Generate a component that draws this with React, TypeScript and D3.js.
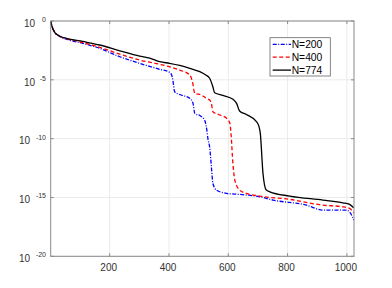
import React from "react";
import * as d3 from "d3";

const xTicks = [200, 400, 600, 800, 1000];
const yTickExps = [0, -5, -10, -15, -20];
const seriesNames = ["N=200", "N=400", "N=774"];

const n200 = [1, 4, 8, 15, 25, 38, 54, 109, 166, 234, 301, 369, 402, 409, 413, 419, 436, 470, 481, 487, 504, 520, 526, 532, 537, 543, 548, 560, 594, 638, 706, 751, 863, 919, 998, 1009, 1023];
const e200 = [0, -0.34, -0.64, -0.98, -1.22, -1.40, -1.55, -1.90, -2.32, -3.04, -3.60, -4.11, -4.36, -4.59, -5.02, -6.01, -6.25, -6.57, -7.00, -7.85, -8.04, -8.42, -9.01, -10.12, -10.69, -12.39, -13.80, -14.37, -14.65, -14.74, -14.94, -15.22, -15.65, -16.07, -16.07, -16.22, -16.92];

const n400 = [1, 4, 8, 15, 25, 38, 54, 109, 166, 234, 301, 369, 402, 436, 470, 479, 487, 509, 526, 537, 543, 548, 571, 594, 605, 610, 614, 622, 638, 661, 706, 807, 918, 986, 1009, 1023];
const e400 = [0, -0.34, -0.64, -0.98, -1.21, -1.38, -1.51, -1.83, -2.24, -2.81, -3.32, -3.68, -3.89, -4.17, -4.59, -5.16, -6.15, -6.29, -6.57, -6.72, -7.00, -7.71, -7.99, -8.27, -8.67, -9.84, -11.54, -13.52, -14.37, -14.65, -14.88, -15.16, -15.65, -15.79, -15.93, -16.30];

const n774 = [1, 4, 8, 15, 25, 38, 54, 109, 166, 234, 301, 335, 369, 402, 436, 470, 504, 524, 537, 548, 554, 582, 616, 628, 638, 661, 695, 703, 708, 717, 728, 740, 807, 919, 987, 1009, 1023];
const e774 = [0, -0.34, -0.64, -0.98, -1.19, -1.36, -1.47, -1.74, -2.04, -2.53, -2.98, -3.15, -3.46, -3.60, -3.78, -4.02, -4.31, -4.59, -4.87, -5.59, -6.10, -6.33, -6.66, -7.00, -7.65, -7.95, -8.56, -8.93, -9.55, -12.95, -14.37, -14.52, -14.88, -15.22, -15.45, -15.59, -15.88];

const W = 392;
const H = 288;
const left = 50.7;
const right = 354;
const top = 21;
const bottom = 256.3;
const font = "'Liberation Sans', Arial, Helvetica, sans-serif";
const axisColor = "#8a8a8a";
const gridColor = "#ebebeb";
const textColor = "#333";

export default function App() {
  const x = d3.scaleLinear().domain([1, 1024]).range([left, right]);
  const y = d3.scaleLog().domain([1e-20, 1]).range([bottom, top]);

  const series = [
    { name: seriesNames[0], n: n200, e: e200, color: "#0000ff", dash: "4,1.5,1,1.5", width: 1.3 },
    { name: seriesNames[1], n: n400, e: e400, color: "#ff0000", dash: "4,2.5", width: 1.3 },
    { name: seriesNames[2], n: n774, e: e774, color: "#000000", dash: "none", width: 1.3 },
  ];

  const line = d3
    .line<[number, number]>()
    .x((d) => x(d[0]))
    .y((d) => y(Math.pow(10, d[1])))
    .curve(d3.curveMonotoneX);

  const legX = 270;
  const legY = 37.7;
  const legW = 60.3;
  const legH = 38.3;

  return (
    <svg width={W} height={H} style={{ position: "absolute", left: 0, top: 0, background: "#fff" }}>
      <rect x={0} y={0} width={W} height={H} fill="#fff" />
      {xTicks.map((t) => (
        <line key={"gx" + t} x1={x(t)} x2={x(t)} y1={top} y2={bottom} stroke={gridColor} strokeWidth={1} />
      ))}
      {yTickExps.map((e) => (
        <line key={"gy" + e} x1={left} x2={right} y1={y(Math.pow(10, e))} y2={y(Math.pow(10, e))} stroke={gridColor} strokeWidth={1} />
      ))}
      <g>
        {series.map((s) => (
          <path
            key={s.name}
            d={line(s.n.map((v, i) => [v, s.e[i]] as [number, number])) || ""}
            fill="none"
            stroke={s.color}
            strokeWidth={s.width}
            strokeDasharray={s.dash}
            strokeLinejoin="round"
          />
        ))}
      </g>
      <rect x={left} y={top} width={right - left} height={bottom - top} fill="none" stroke={axisColor} strokeWidth={1} />
      {xTicks.map((t) => (
        <g key={"tx" + t}>
          <line x1={x(t)} x2={x(t)} y1={bottom} y2={bottom - 3} stroke={axisColor} />
          <line x1={x(t)} x2={x(t)} y1={top} y2={top + 3} stroke={axisColor} />
          <text x={x(t) - 1} y={bottom + 14.2} textAnchor="middle" fontFamily={font} fontSize={10} fill={textColor}>
            {t}
          </text>
        </g>
      ))}
      {yTickExps.map((e) => {
        const yy = y(Math.pow(10, e));
        const expStr = e === 0 ? "0" : "-" + Math.abs(e);
        const w = String(Math.abs(e)).length >= 2 ? 14.3 : 9.3;
        return (
          <g key={"ty" + e}>
            <line x1={left} x2={left + 3} y1={yy} y2={yy} stroke={axisColor} />
            <line x1={right} x2={right - 3} y1={yy} y2={yy} stroke={axisColor} />
            <text x={46 - w - 1.5} y={yy + 5.8} textAnchor="end" fontFamily={font} fontSize={10} fill={textColor}>
              10
            </text>
            <text x={46} y={yy + 1} textAnchor="end" fontFamily={font} fontSize={7} fill={textColor}>
              {expStr}
            </text>
          </g>
        );
      })}
      <rect x={legX} y={legY} width={legW} height={legH} fill="#fff" stroke="#666" strokeWidth={0.8} />
      {series.map((s, i) => {
        const ly = 44.3 + i * 12.9;
        return (
          <g key={"leg" + s.name}>
            <line x1={272.7} x2={291} y1={ly} y2={ly} stroke={s.color} strokeWidth={s.width} strokeDasharray={s.dash} />
            <text x={291.7} y={ly + 3.7} fontFamily={font} fontSize={10.3} fill="#000">
              {s.name}
            </text>
          </g>
        );
      })}
    </svg>
  );
}
